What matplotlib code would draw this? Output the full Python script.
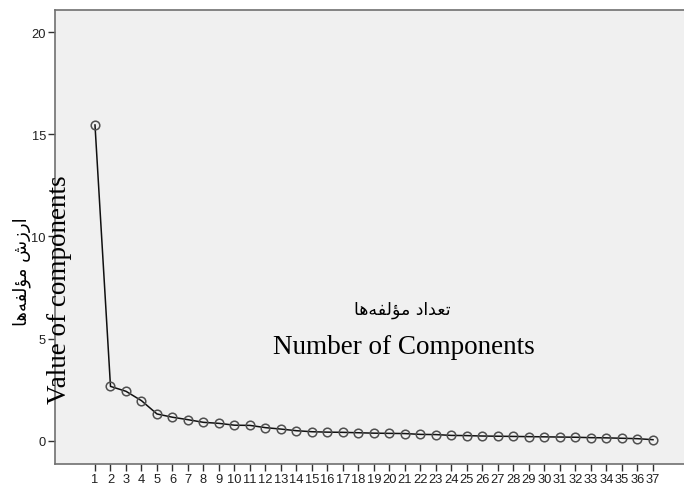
import matplotlib
matplotlib.use('Agg')
import matplotlib.pyplot as plt
import numpy as np

# scree plot values
components = list(range(1, 38))
values = [15.46, 2.66, 2.42, 1.96, 1.31, 1.15, 1.03, 0.90, 0.85, 0.76,
          0.75, 0.64, 0.57, 0.49, 0.44, 0.42, 0.41, 0.39, 0.37, 0.36,
          0.35, 0.31, 0.30, 0.26, 0.25, 0.23, 0.22, 0.21, 0.20, 0.19,
          0.18, 0.17, 0.15, 0.14, 0.12, 0.10, 0.05]
yticks = [0, 5, 10, 15, 20]

ylabel_fa = 'ارزش مؤلفه‌ها'
ylabel_en = 'Value of components'
xlabel_fa = 'تعداد مؤلفه‌ها'
xlabel_en = 'Number of Components'

# minimal arabic shaping (matplotlib has no bidi / joining support)
FORMS = {  # isolated, final, initial, medial
    'ا': ('\uFE8D', '\uFE8E', None, None),
    'ر': ('\uFEAD', '\uFEAE', None, None),
    'ز': ('\uFEAF', '\uFEB0', None, None),
    'د': ('\uFEA9', '\uFEAA', None, None),
    'ؤ': ('\uFE85', '\uFE86', None, None),
    'ش': ('\uFEB5', '\uFEB6', '\uFEB7', '\uFEB8'),
    'م': ('\uFEE1', '\uFEE2', '\uFEE3', '\uFEE4'),
    'ل': ('\uFEDD', '\uFEDE', '\uFEDF', '\uFEE0'),
    'ف': ('\uFED1', '\uFED2', '\uFED3', '\uFED4'),
    'ه': ('\uFEE9', '\uFEEA', '\uFEEB', '\uFEEC'),
    'ت': ('\uFE95', '\uFE96', '\uFE97', '\uFE98'),
    'ع': ('\uFEC9', '\uFECA', '\uFECB', '\uFECC'),
}

def shape(s):
    out = []
    for i, ch in enumerate(s):
        if ch not in FORMS:
            if ch != '\u200c':
                out.append(ch)
            continue
        prev = s[i - 1] if i > 0 else ''
        nxt = s[i + 1] if i + 1 < len(s) else ''
        jp = prev in FORMS and FORMS[prev][2] is not None
        jn = FORMS[ch][2] is not None and nxt in FORMS
        iso, fin, ini, med = FORMS[ch]
        if jp and jn:
            out.append(med)
        elif jp:
            out.append(fin)
        elif jn:
            out.append(ini)
        else:
            out.append(iso)
    return ''.join(reversed(out))

W, H = 684, 485
fig = plt.figure(figsize=(W / 100, H / 100), dpi=100)
ax = fig.add_axes([55 / W, 20 / H, 1 - 55 / W, (465 - 11) / H])
ax.set_facecolor('#f0f0f0')

ax.plot(components, values, '-', color='#101010', lw=1.1, zorder=2)
ax.plot(components, values, 'o', mfc='none', mec='#505050', mew=1.1,
        ms=6.2, zorder=3)

ax.set_xlim(-1.58, 39.0)
ax.set_ylim(-1.14, 21.09)
ax.set_xticks(components)
ax.set_xticklabels([str(c) for c in components])
ax.set_yticks(yticks)
ax.set_yticklabels([str(t) for t in yticks])

for lab in ax.get_xticklabels() + ax.get_yticklabels():
    lab.set_fontfamily('Liberation Sans')
    lab.set_fontsize(9.3)
    lab.set_color('#202020')
ax.tick_params(axis='both', length=5, width=1, color='#303030', pad=1.5)

for side in ['left', 'top', 'bottom']:
    ax.spines[side].set_color('#707070')
    ax.spines[side].set_linewidth(1.2)
ax.spines['right'].set_visible(False)

# labels placed as in the original (overlapping the axis)
fig.text(22 / W, 1 - 272 / H, shape(ylabel_fa), rotation=90, ha='center',
         va='center', fontsize=13, family='DejaVu Sans')
fig.text(60 / W, 1 - 290 / H, ylabel_en, rotation=90, ha='center',
         va='center', fontsize=19.5, family='Liberation Serif')
fig.text(402 / W, 1 - 310 / H, shape(xlabel_fa), ha='center', va='center',
         fontsize=12.5, family='DejaVu Sans')
fig.text(404 / W, 1 - 347 / H, xlabel_en, ha='center', va='center',
         fontsize=19.5, family='Liberation Serif')

fig.savefig('out.png', dpi=100)
